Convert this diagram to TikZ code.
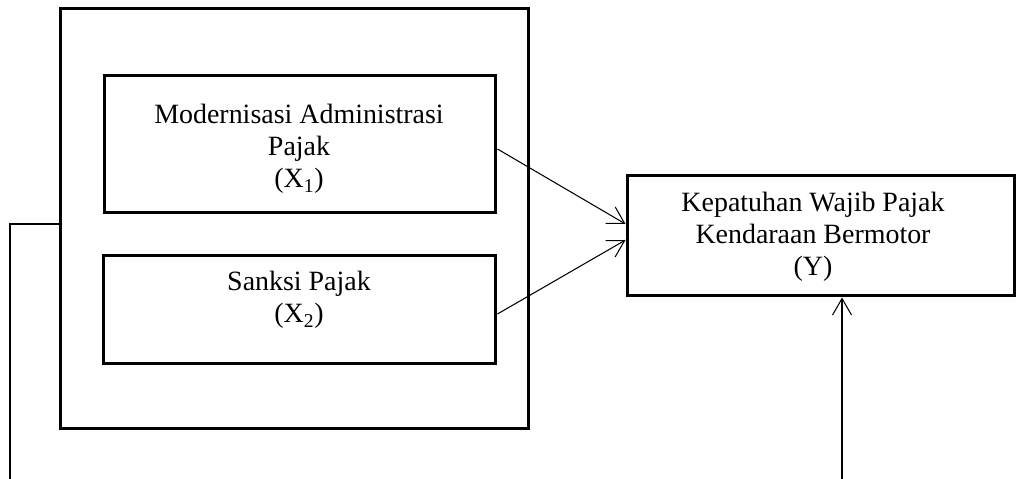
\documentclass[tikz,border=0pt]{standalone}
\usepackage{fontspec}
\setmainfont{Liberation Serif}
\usetikzlibrary{arrows.meta}
\tikzset{block/.style = {draw, line width=1.7pt, rectangle, inner sep=0pt},
         label/.style = {align=center, font=\fontsize{15.9}{18.3}\selectfont},
         link/.style = {line width=0.6pt, -{Straight Barb[length=3.3mm, width=3.8mm, line width=0.6pt]}}}

\begin{document}
\begin{tikzpicture}[x=0.02cm,y=-0.02cm]
        \useasboundingbox (0,0) rectangle (1016,479);

        \node[block, minimum width=9.38cm, minimum height=8.42cm](outer)at(294.5,218.5){};
        \node[block, minimum width=7.84cm, minimum height=2.76cm](x1)at(300,144){};
        \node[block, minimum width=7.86cm, minimum height=2.18cm](x2)at(299.5,309.5){};
        \node[block, minimum width=7.76cm, minimum height=2.42cm](y)at(821,235.5){};

        \node[label](t1)at(299,149){Modernisasi Administrasi\\Pajak\\(X\textsubscript{1})};
        \node[label](t2)at(299,300){Sanksi Pajak\\(X\textsubscript{2})};
        \node[label](ty)at(813,237){Kepatuhan Wajib Pajak\\Kendaraan Bermotor\\(Y)};

        \draw[link]([yshift=-0.1cm]x1.east)--([yshift=0.23cm]y.west);
        \draw[link]([yshift=-0.09cm]x2.east)--([yshift=-0.09cm]y.west);

        \coordinate(ybot)at(842,479);
        \draw[link](ybot)--(ybot|-y.south);

        \coordinate(lbot)at(10,479);
        \draw[line width=0.7pt](lbot)|-([yshift=-0.11cm]outer.west);
\end{tikzpicture}
\end{document}
